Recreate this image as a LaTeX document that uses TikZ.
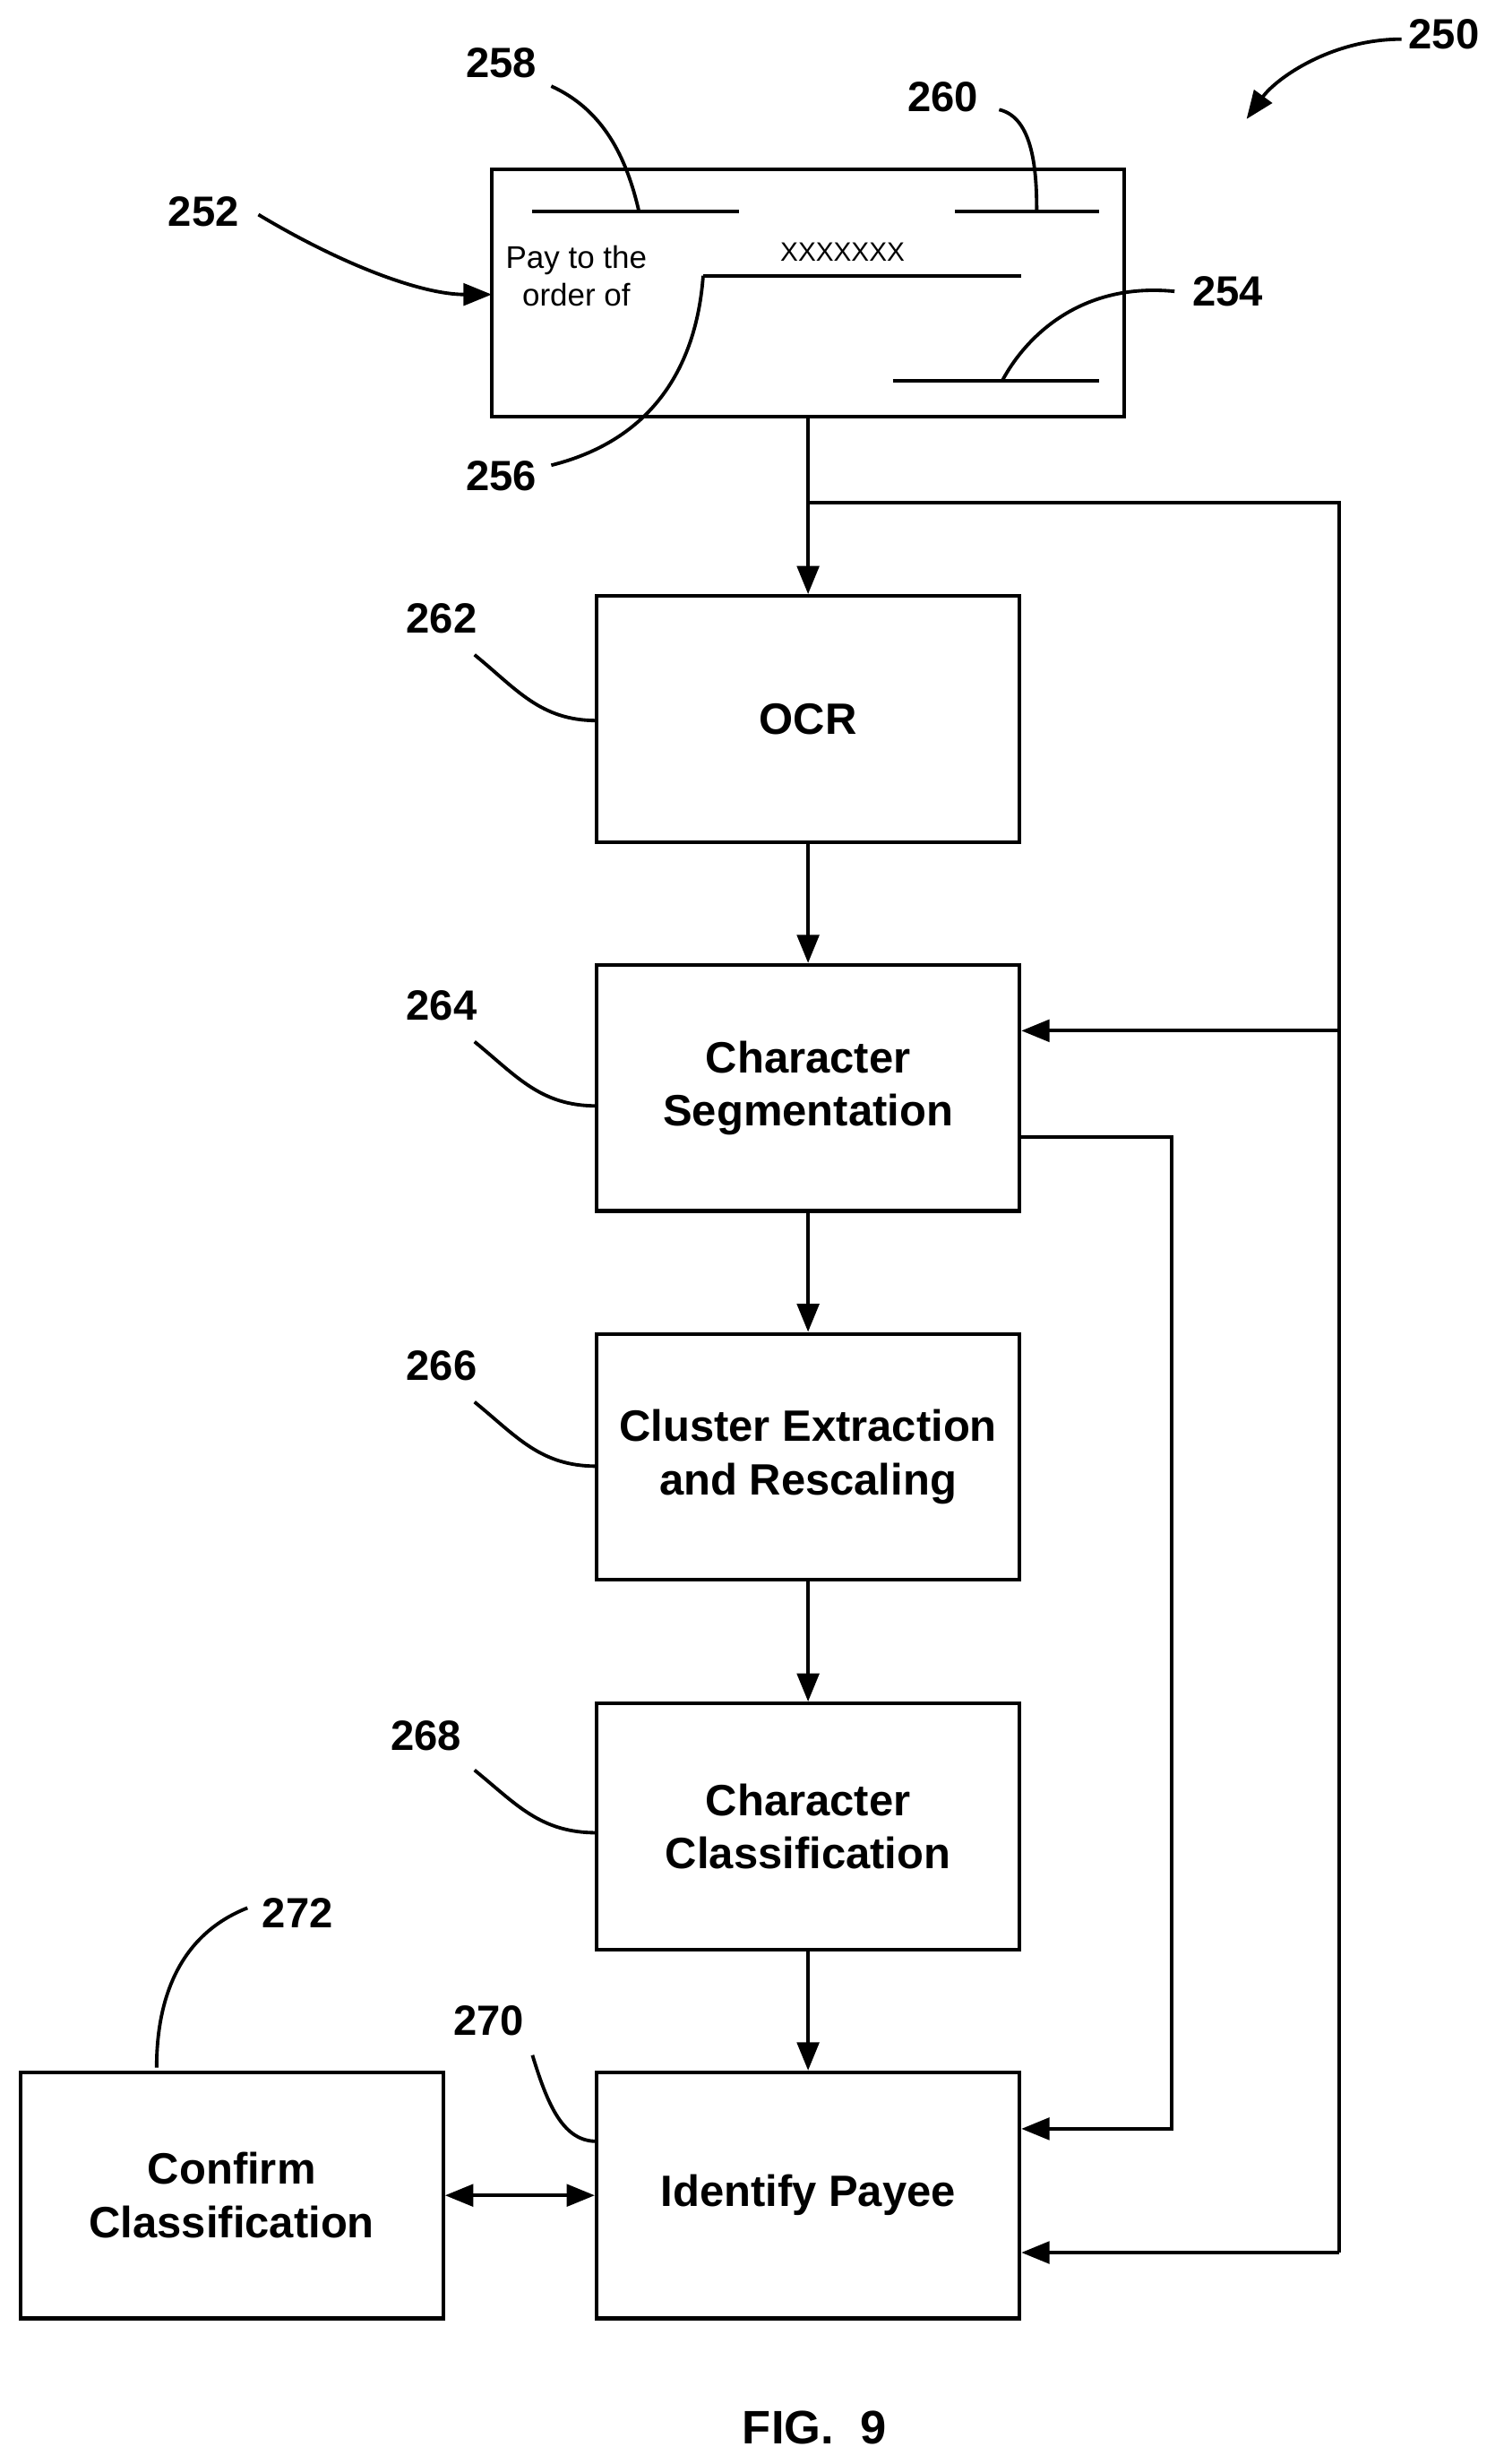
\documentclass[tikz,border=0pt]{standalone}
\usepackage{fontspec}
\setmainfont{Liberation Sans}
\usetikzlibrary{arrows.meta}
\begin{document}
\begin{tikzpicture}[x=1pt,y=-1pt,line width=2.4pt,
 box/.style={draw,minimum width=270pt,minimum height=157pt,align=center,font=\fontsize{28}{34}\selectfont\bfseries,inner sep=0},
 lab/.style={font=\fontsize{27}{30}\selectfont\bfseries},
 arr/.style={-{Triangle[length=18pt,width=14pt]}},
 lead/.style={line width=2.2pt}]
\useasboundingbox (0,0) rectangle (960,1573);
\node[draw,minimum width=404pt,minimum height=158pt,inner sep=0] (chk) at (516,187) {};
\draw (340,135)--(472,135) (610,135)--(702,135) (449,176)--(652,176) (570,243)--(702,243);
\node[font=\fontsize{20}{24}\selectfont,align=center] (pay) at (368,176) {Pay to the\\order of};
\node[font=\fontsize{17}{20}\selectfont] (xx) at (538,161) {XXXXXXX};
\node[box] (ocr) at (516,459) {OCR};
\node[box] (seg) at (516,694.5) {Character\\Segmentation};
\node[box] (clu) at (516,930) {Cluster Extraction\\and Rescaling};
\node[box] (cls) at (516,1166) {Character\\Classification};
\node[box] (idp) at (516,1401.5) {Identify Payee};
\node[box] (con) at (148,1401.5) {Confirm\\Classification};
\coordinate (j) at (516,321);
\draw[arr] (chk.south)--(ocr.north);
\draw (j)--(855,321)--(855,1438);
\draw[arr] (855,658)--(seg.east|-0,658);
\draw[arr] (855,1438)--(idp.east|-0,1438);
\draw[arr] (seg.east|-0,726)--(748,726)--(748,1359)--(idp.east|-0,1359);
\draw[arr] (ocr)--(seg); \draw[arr] (seg)--(clu); \draw[arr] (clu)--(cls); \draw[arr] (cls)--(idp);
\draw[{Triangle[length=18pt,width=14pt]}-{Triangle[length=18pt,width=14pt]}] (con)--(idp);
% labels
\node[lab] (l250) at (922,22) {250};
\draw[lead,arr] (895,25) .. controls (850,25) and (815,50) .. (796,76);
\node[lab] (l252) at (130,135) {252};
\draw[lead,arr] (165,137) .. controls (220,170) and (270,188) .. (314,188);
\node[lab] (l258) at (320,40) {258};
\draw[lead] (352,55) .. controls (385,70) and (400,100) .. (408,135);
\node[lab] (l260) at (602,62) {260};
\draw[lead] (638,70) .. controls (660,75) and (662,110) .. (662,135);
\node[lab] (l254) at (784,186) {254};
\draw[lead] (750,186) .. controls (690,180) and (655,215) .. (640,243);
\node[lab] (l256) at (320,304) {256};
\draw[lead] (352,297) .. controls (420,280) and (445,230) .. (449,176);
\node[lab] (l262) at (282,395) {262};
\draw[lead] (303,418) .. controls (330,440) and (345,460) .. (381,460);
\node[lab] (l264) at (282,642) {264};
\draw[lead] (303,665) .. controls (330,687) and (345,706) .. (381,706);
\node[lab] (l266) at (282,872) {266};
\draw[lead] (303,895) .. controls (330,917) and (345,936) .. (381,936);
\node[lab] (l268) at (272,1108) {268};
\draw[lead] (303,1130) .. controls (330,1152) and (345,1170) .. (381,1170);
\node[lab] (l270) at (312,1290) {270};
\draw[lead] (340,1312) .. controls (350,1345) and (360,1367) .. (381,1367);
\node[lab] (l272) at (190,1221) {272};
\draw[lead] (158,1218) .. controls (115,1235) and (100,1275) .. (100,1320);
\node[font=\fontsize{30}{34}\selectfont\bfseries] (fig) at (520,1550) {FIG.\ \ 9};
\end{tikzpicture}
\end{document}
